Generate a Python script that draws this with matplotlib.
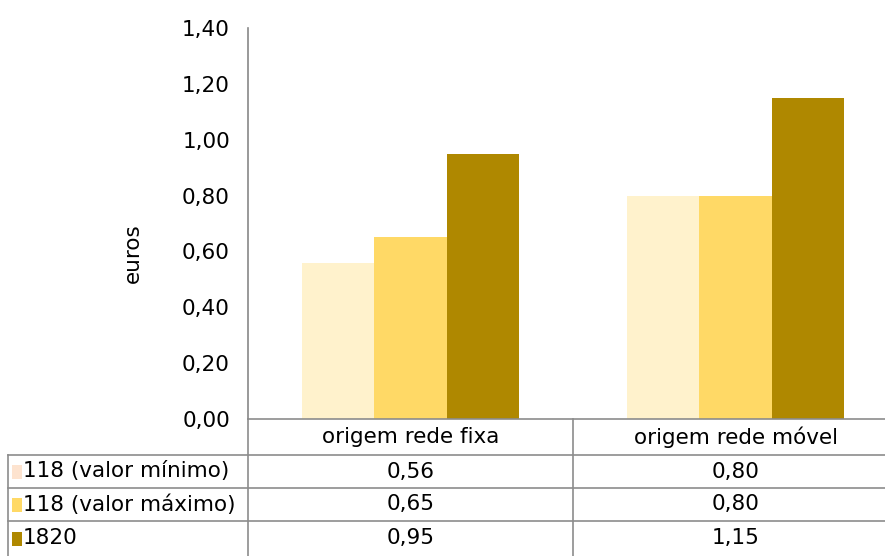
import numpy as np
import matplotlib.pyplot as plt
from matplotlib.lines import Line2D
from matplotlib.patches import Rectangle

plt.rcParams['font.family'] = ['DejaVu Sans']

# data
categorias = ["origem rede fixa", "origem rede móvel"]
series = ["118 (valor mínimo)", "118 (valor máximo)", "1820"]
valor_min = [0.56, 0.80]
valor_max = [0.65, 0.80]
v1820 = [0.95, 1.15]
cores = ["#FFF2CC", "#FFD966", "#AF8800"]
cores_chave = ["#FDE3CF", "#FFD966", "#AF8800"]

FS = 15.5
W, H = 885, 556
fig = plt.figure(figsize=(W / 100, H / 100), dpi=100)

# plot area in pixels (left, top, right, bottom); right edge runs past the image
x0, y0, x1, y1 = 248, 28, 898, 419
ax = fig.add_axes([x0 / W, 1 - y1 / H, (x1 - x0) / W, (y1 - y0) / H])

def fx(px):
    return px / W

def fy(py):
    return 1 - py / H

def fmt(v):
    return ("%.2f" % v).replace(".", ",")

x = np.arange(len(categorias))
larg = 0.222
for i, vals in enumerate([valor_min, valor_max, v1820]):
    ax.bar(x + (i - 1) * larg, vals, larg, color=cores[i], linewidth=0)

ax.set_xlim(-0.5, 1.5)
ax.set_ylim(0, 1.4)
ax.set_yticks(np.arange(0, 1.41, 0.2))
ax.set_yticklabels([fmt(v) for v in np.arange(0, 1.41, 0.2)], fontsize=FS)
ax.tick_params(axis='y', length=0, pad=13)
ax.set_xticks([])
for s in ['top', 'right', 'bottom']:
    ax.spines[s].set_visible(False)
ax.spines['left'].set_color('#888888')
ax.spines['left'].set_linewidth(1.2)
fig.text(fx(133), fy(253), "euros", rotation=90, ha='center', va='center', fontsize=FS)

# data table below the axis
cinza = '#8c8c8c'
col_x = [8, 248, 573, 898]
row_y = [419, 455, 488, 521, 556]

def linha(xa, ya, xb, yb):
    fig.add_artist(Line2D([fx(xa), fx(xb)], [fy(ya), fy(yb)], color=cinza, lw=1.2))

linha(248, 419, 885, 419)
for yy in row_y[1:4]:
    linha(col_x[0], yy, 885, yy)
linha(col_x[0], row_y[1], col_x[0], 556)
linha(col_x[1], row_y[0], col_x[1], 556)
linha(col_x[2], row_y[0], col_x[2], 556)

for j, cat in enumerate(categorias):
    cx = (col_x[j + 1] + col_x[j + 2]) / 2
    fig.text(fx(cx), fy((row_y[0] + row_y[1]) / 2), cat, ha='center', va='center', fontsize=FS)

for i, (nome, vals) in enumerate(zip(series, [valor_min, valor_max, v1820])):
    cy = (row_y[i + 1] + row_y[i + 2]) / 2
    fig.add_artist(Rectangle((fx(12), fy(cy + 7)), fx(10), 14 / H, color=cores_chave[i], lw=0))
    fig.text(fx(23), fy(cy), nome, ha='left', va='center', fontsize=FS)
    for j, v in enumerate(vals):
        cx = (col_x[j + 1] + col_x[j + 2]) / 2
        fig.text(fx(cx), fy(cy), fmt(v), ha='center', va='center', fontsize=FS)

fig.savefig("out.png", dpi=100)
